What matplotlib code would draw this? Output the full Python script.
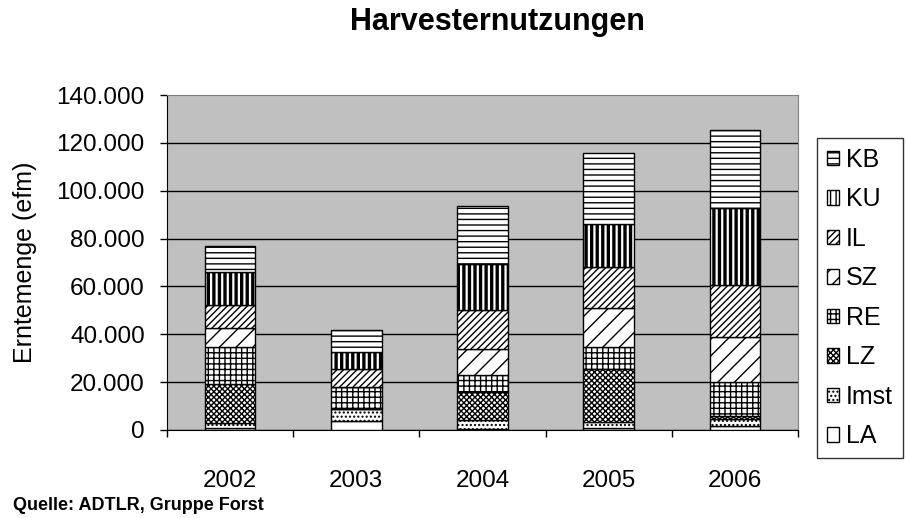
import numpy as np
import matplotlib
matplotlib.use('Agg')
import matplotlib.pyplot as plt
from matplotlib.ticker import FuncFormatter, FixedLocator

plt.rcParams['font.family'] = ['Liberation Sans', 'DejaVu Sans']
plt.rcParams['hatch.linewidth'] = 1.0

# data (efm per year, stacked bottom -> top)
years = ['2002', '2003', '2004', '2005', '2006']
LA = [1000, 3800, 300, 1000, 1500]
Imst = [1800, 4900, 4000, 2300, 3000]
LZ = [16500, 0, 11400, 22000, 1400]
RE = [15200, 9100, 7100, 9400, 14100]
SZ = [8000, 0, 11200, 16200, 19000]
IL = [9800, 7800, 16200, 17100, 21800]
KU = [13700, 7000, 19000, 18000, 31900]
KB = [11000, 9200, 24600, 29900, 32700]

names = ['LA', 'Imst', 'LZ', 'RE', 'SZ', 'IL', 'KU', 'KB']
series = [LA, Imst, LZ, RE, SZ, IL, KU, KB]
hatches = ['', '....', 'xxxxxx', '+++', '//', '/////', '|||', '---']

fig = plt.figure(figsize=(9.06, 5.18), dpi=100)
ax = fig.add_axes([0.1843, 0.1699, 0.6965, 0.6467])
ax.set_facecolor('#c0c0c0')

x = np.arange(len(years))
bottom = np.zeros(len(years))
handles = []
for name, vals, h in zip(names, series, hatches):
    lw = 2.4 if name == 'KU' else 1.0
    with plt.rc_context({'hatch.linewidth': lw}):
        b = ax.bar(x, vals, 0.4, bottom=bottom, color='white', edgecolor='black',
                   linewidth=1.0, hatch=h, label=name, zorder=3)
    handles.append(b)
    bottom += np.array(vals)

ax.set_xlim(-0.5, 4.5)
ax.set_ylim(0, 140000)
ax.yaxis.set_major_locator(FixedLocator(np.arange(0, 140001, 20000)))
ax.yaxis.set_major_formatter(FuncFormatter(lambda v, p: f'{int(v):,}'.replace(',', '.')))
ax.tick_params(axis='y', labelsize=17.5, length=5, width=1, pad=11, direction='out')

ax.set_xticks(x)
ax.set_xticklabels(years)
ax.set_xticks(np.arange(-0.5, 5, 1), minor=True)
ax.tick_params(axis='x', which='major', length=0, labelsize=17.5, pad=29)
ax.tick_params(axis='x', which='minor', length=5, width=1, direction='out')

ax.yaxis.grid(True, color='black', linewidth=1)
ax.set_axisbelow(True)
ax.yaxis.get_gridlines()[-1].set_visible(False)

for s in ['top', 'right']:
    ax.spines[s].set_color('#808080')
for s in ['left', 'bottom']:
    ax.spines[s].set_color('black')

ax.set_ylabel('Erntemenge (efm)', fontsize=18)
ax.yaxis.set_label_coords(-0.206, 0.5)

leg = ax.legend(handles[::-1], names[::-1], loc='upper left', bbox_to_anchor=(1.03, 0.872),
                borderaxespad=0, fontsize=18, frameon=True, fancybox=False,
                edgecolor='black', handlelength=0.5, handleheight=0.5,
                handletextpad=0.25, labelspacing=0.62, borderpad=0.4)
leg.get_frame().set_linewidth(1.0)

fig.text(0.5486, 0.957, 'Harvesternutzungen', ha='center', va='center',
         fontsize=22, fontweight='bold')
fig.text(0.0143, 0.0232, 'Quelle: ADTLR, Gruppe Forst', ha='left', va='center',
         fontsize=13, fontweight='bold')

fig.savefig('out.png', dpi=100)
